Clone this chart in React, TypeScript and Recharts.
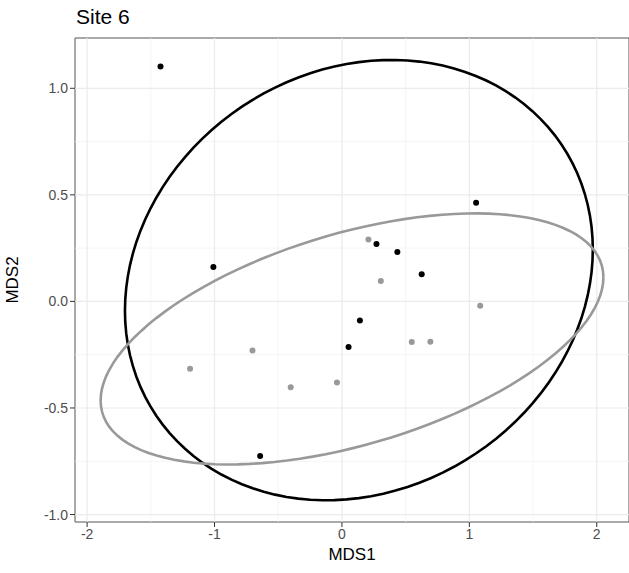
import React from 'react';
import {
  ScatterChart,
  Scatter,
  XAxis,
  YAxis,
  ReferenceLine,
  ReferenceArea,
} from 'recharts';

// ---- data ----
const blackPoints = [
  { x: -1.424, y: 1.102 },
  { x: -1.009, y: 0.161 },
  { x: 1.053, y: 0.463 },
  { x: 0.271, y: 0.27 },
  { x: 0.435, y: 0.232 },
  { x: 0.626, y: 0.128 },
  { x: 0.141, y: -0.089 },
  { x: 0.052, y: -0.214 },
  { x: -0.642, y: -0.725 },
];

const grayPoints = [
  { x: 0.208, y: 0.291 },
  { x: 0.305, y: 0.096 },
  { x: 1.085, y: -0.02 },
  { x: 0.548, y: -0.19 },
  { x: 0.694, y: -0.189 },
  { x: -0.039, y: -0.38 },
  { x: -1.192, y: -0.316 },
  { x: -0.702, y: -0.23 },
  { x: -0.402, y: -0.403 },
];

// ellipse parameters: centre, half-extent in x and y, phase (tilt)
const blackEllipse = { cx: 0.133, cy: 0.1, rx: 1.836, ry: 1.033, phase: 0.14 };
const grayEllipse = { cx: 0.079, cy: -0.176, rx: 1.973, ry: 0.589, phase: 0.512 };

const xTicks = [-2, -1, 0, 1, 2];
const yTicks = [-1, -0.5, 0, 0.5, 1];
const xMinor = [-1.5, -0.5, 0.5, 1.5];
const yMinor = [-0.75, -0.25, 0.25, 0.75];
const xDomain: [number, number] = [-2.095, 2.253];
const yDomain: [number, number] = [-1.035, 1.236];

const ellipsePath = (e: typeof blackEllipse) => {
  const pts: { x: number; y: number }[] = [];
  const n = 120;
  for (let i = 0; i <= n; i++) {
    const t = (i / n) * Math.PI * 2;
    pts.push({ x: e.cx + e.rx * Math.cos(t), y: e.cy + e.ry * Math.sin(t + e.phase) });
  }
  return pts;
};

const blackEllipseData = ellipsePath(blackEllipse);
const grayEllipseData = ellipsePath(grayEllipse);

const FONT = '"Liberation Sans", Arial, sans-serif';

const noShape = () => <g />;
const dot = (color: string) => (props: any) =>
  <circle cx={props.cx} cy={props.cy} r={3} fill={color} />;

export default function App() {
  return (
    <div style={{ position: 'absolute', left: 0, top: 0, width: 629, height: 573, background: '#fff', fontFamily: FONT }}>
      <div style={{ position: 'absolute', left: 76, top: 5, fontSize: 21, color: '#000', lineHeight: '24px' }}>Site 6</div>
      <ScatterChart width={629} height={573} margin={{ top: 38, right: 0, bottom: 0, left: 0 }}>
        {xMinor.map((v) => (
          <ReferenceLine key={'xm' + v} x={v} stroke="#f3f3f3" strokeWidth={0.8} />
        ))}
        {yMinor.map((v) => (
          <ReferenceLine key={'ym' + v} y={v} stroke="#f3f3f3" strokeWidth={0.8} />
        ))}
        {xTicks.map((v) => (
          <ReferenceLine key={'xM' + v} x={v} stroke="#ebebeb" strokeWidth={1.2} />
        ))}
        {yTicks.map((v) => (
          <ReferenceLine key={'yM' + v} y={v} stroke="#ebebeb" strokeWidth={1.2} />
        ))}
        <XAxis
          type="number"
          dataKey="x"
          domain={xDomain}
          ticks={xTicks}
          allowDataOverflow
          height={51}
          axisLine={false}
          tickLine={{ stroke: '#333333' }}
          tickSize={5}
          tickMargin={2}
          tick={{ fill: '#4d4d4d', fontSize: 14, fontFamily: FONT }}
          label={{ value: 'MDS1', position: 'insideBottom', offset: 13, fill: '#000', fontSize: 17, fontFamily: FONT }}
        />
        <YAxis
          type="number"
          dataKey="y"
          domain={yDomain}
          ticks={yTicks}
          allowDataOverflow
          width={75}
          axisLine={false}
          tickLine={{ stroke: '#333333' }}
          tickSize={5}
          tickMargin={2}
          tickFormatter={(v: number) => v.toFixed(1)}
          tick={{ fill: '#4d4d4d', fontSize: 14, fontFamily: FONT }}
          label={{ value: 'MDS2', angle: -90, position: 'insideLeft', offset: 12, fill: '#000', fontSize: 17, fontFamily: FONT, style: { textAnchor: 'middle' } }}
        />
        <Scatter data={grayPoints} fill="#999999" shape={dot('#999999')} isAnimationActive={false} />
        <Scatter data={blackPoints} fill="#000000" shape={dot('#000000')} isAnimationActive={false} />
        <Scatter
          data={blackEllipseData}
          line={{ stroke: '#000000', strokeWidth: 2.6 }}
          lineType="joint"
          shape={noShape}
          isAnimationActive={false}
        />
        <Scatter
          data={grayEllipseData}
          line={{ stroke: '#999999', strokeWidth: 2.6 }}
          lineType="joint"
          shape={noShape}
          isAnimationActive={false}
        />
        <ReferenceArea x1={xDomain[0]} x2={xDomain[1]} y1={yDomain[0]} y2={yDomain[1]} fill="none" fillOpacity={0} stroke="#555555" strokeWidth={1} />
      </ScatterChart>
    </div>
  );
}
